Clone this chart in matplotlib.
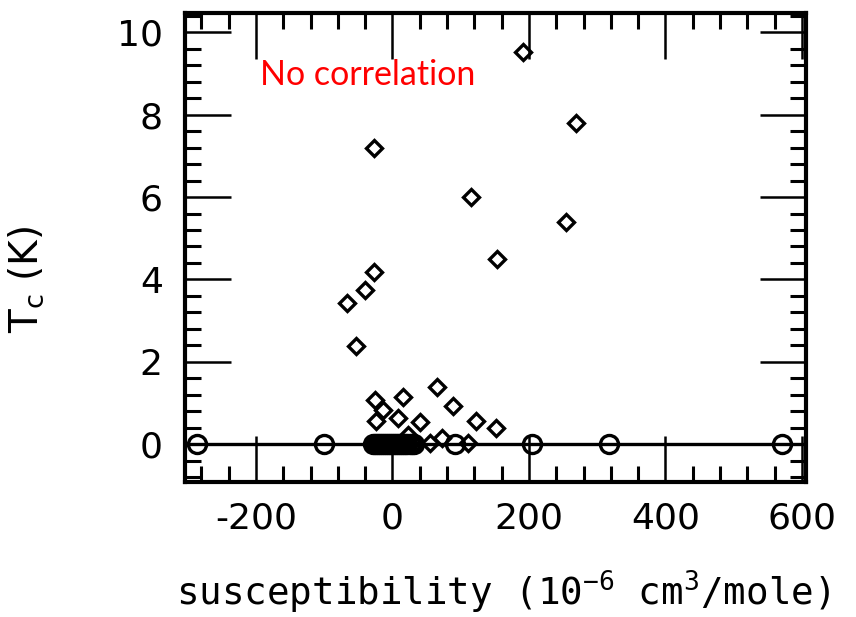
import matplotlib
matplotlib.use("Agg")
import matplotlib.pyplot as plt
from matplotlib.ticker import MultipleLocator

plt.rcParams["axes.unicode_minus"] = False
plt.rcParams["mathtext.fontset"] = "custom"
plt.rcParams["mathtext.rm"] = "DejaVu Sans Mono"
plt.rcParams["mathtext.it"] = "DejaVu Sans Mono"

# superconductors (Tc > 0), open diamonds
sc_chi = [191, 269, -27, 115, 254, 153, -27, -40, -67, -53,
          -26, -14, 15, -24, 8, 65, 89, 40, 122, 151, 73, 23, 55, 111]
sc_tc = [9.52, 7.79, 7.19, 6.0, 5.39, 4.49, 4.18, 3.75, 3.43, 2.39,
         1.08, 0.84, 1.14, 0.55, 0.64, 1.39, 0.92, 0.53, 0.55, 0.38, 0.15, 0.23, 0.02, 0.02]

# non-superconductors (Tc = 0), open circles
ns_chi = [-286, -101, -29, -26, -23, -20, -17, -14, -11, -8, -5, -2, 1, 4, 7,
          10, 13, 16, 19, 22, 25, 28, 31, 91, 204, 318, 571]
ns_tc = [0] * len(ns_chi)

fig = plt.figure(figsize=(8.56, 6.17), dpi=100)
ax = fig.add_axes([185 / 856, 1 - 482 / 617, (806 - 185) / 856, (482 - 13) / 617])

ax.axhline(0, color="black", lw=2.4, zorder=1)
ax.plot(ns_chi, ns_tc, "o", ms=13, mfc="none", mec="black", mew=2.4, zorder=2)
ax.plot(sc_chi, sc_tc, "D", ms=8.5, mfc="none", mec="black", mew=2.4, zorder=3)

ax.set_xlim(-304, 606)
ax.set_ylim(-0.92, 10.47)
ax.xaxis.set_major_locator(MultipleLocator(200))
ax.xaxis.set_minor_locator(MultipleLocator(40))
ax.yaxis.set_major_locator(MultipleLocator(2))
ax.yaxis.set_minor_locator(MultipleLocator(0.4))

for s in ax.spines.values():
    s.set_linewidth(3)
ax.tick_params(which="both", direction="in", top=True, right=True)
ax.tick_params(which="major", length=33, width=1.8, labelsize=26, pad=14)
ax.tick_params(which="minor", length=11.5, width=2.2)
ax.tick_params(axis="y", which="major", pad=16)

ax.text(-194, 8.96, "No correlation", color="red", fontsize=24.5,
        family="Lato", ha="left", va="center")

fig.text(26 / 856, 1 - 279 / 617, "T$_\\mathregular{c}$ (K)", rotation=90,
         fontsize=28, ha="center", va="center")
fig.text(503 / 856, 1 - 592 / 617, "susceptibility (10$^{-6}$ cm$^{3}$/mole)",
         family="DejaVu Sans Mono", fontsize=27, ha="center", va="center")

fig.savefig("out.png", dpi=100)
